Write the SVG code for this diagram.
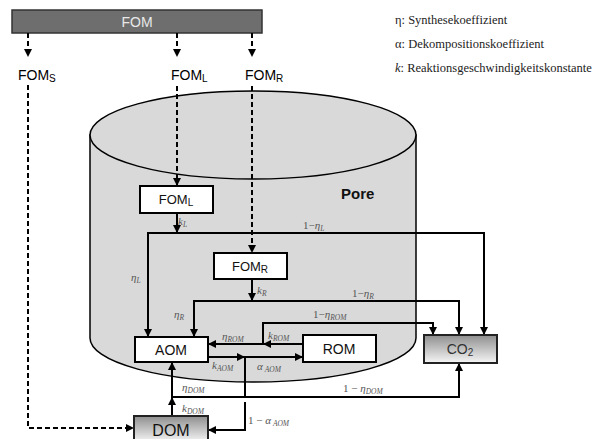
<svg xmlns="http://www.w3.org/2000/svg" width="602" height="439" viewBox="0 0 602 439">
<defs>
<marker id="ah" viewBox="0 0 10 10" refX="10" refY="5" markerWidth="9" markerHeight="8" markerUnits="userSpaceOnUse" orient="auto"><path d="M0,0 L10,5 L0,10 z" fill="#000"/></marker>
<linearGradient id="gg" x1="0" y1="0" x2="0" y2="1"><stop offset="0" stop-color="#8e8e8e"/><stop offset="1" stop-color="#f6f6f6"/></linearGradient>
<style>
.ln{fill:none;stroke:#000;stroke-width:2}
.ar{marker-end:url(#ah)}
.ds{fill:none;stroke:#000;stroke-width:2;stroke-dasharray:5,3}
.box{fill:#fff;stroke:#000;stroke-width:2}
.gbox{fill:url(#gg);stroke:#222;stroke-width:2}
.bt{font-family:"Liberation Sans",Arial,sans-serif;font-size:14px;fill:#111;text-anchor:middle}
.lt{font-family:"Liberation Sans",Arial,sans-serif;font-size:14px;fill:#000}
.gl{font-family:"Liberation Serif","Times New Roman",serif;font-size:11px;fill:#555;font-style:italic}
.sb{font-size:7.5px}
.lg{font-family:"Liberation Serif","Times New Roman",serif;font-size:12.5px;fill:#222}
</style>
</defs>
<g id="cylinder">
<path d="M90,135 L90,338 A163,44 0 0 0 416,338 L416,135 Z" fill="#d9d9d9" stroke="#000" stroke-width="1.5"/>
<ellipse cx="253" cy="135" rx="163" ry="44" fill="#d9d9d9" stroke="#000" stroke-width="1.5"/>
<text x="341" y="199" font-family="Liberation Sans,Arial,sans-serif" font-size="15" font-weight="bold" fill="#111">Pore</text>
</g>
<g id="legend" class="lg">
<text x="395" y="24">η: Synthesekoeffizient</text>
<text x="395" y="48">α: Dekompositionskoeffizient</text>
<text x="395" y="72"><tspan font-style="italic">k</tspan>: Reaktionsgeschwindigkeitskonstante</text>
</g>
<g id="FOM">
<rect x="12" y="10" width="250" height="23" fill="#6e6e6e" stroke="#333" stroke-width="1.5"/>
<text x="137" y="27" class="bt" style="fill:#e8e8e8">FOM</text>
</g>
<g id="FOMS-label"><text x="18" y="80" class="lt">FOM<tspan font-size="10" dy="2">S</tspan></text></g>
<g id="FOML-label"><text x="171" y="80" class="lt">FOM<tspan font-size="10" dy="2">L</tspan></text></g>
<g id="FOMR-label"><text x="245" y="80" class="lt">FOM<tspan font-size="10" dy="2">R</tspan></text></g>
<g id="connectors">
<path class="ds ar" d="M28,33 V57"/>
<path class="ds ar" d="M177,33 V57"/>
<path class="ds ar" d="M252,33 V57"/>
<path class="ds ar" d="M28,85 V428 H134"/>
<path class="ds ar" d="M177,86 V186"/>
<path class="ds ar" d="M252,86 V253"/>
<path class="ln ar" d="M177,213 V233"/>
<path class="ln ar" d="M177,233 H148 V337"/>
<path class="ln ar" d="M177,233 H484 V335"/>
<path class="ln ar" d="M252,279 V301"/>
<path class="ln ar" d="M252,301 H194 V337"/>
<path class="ln ar" d="M252,301 H459 V335"/>
<path class="ln ar" d="M303,344 H263"/>
<path class="ln ar" d="M263,344 H208"/>
<path class="ln ar" d="M263,344 V323 H433 V335"/>
<path class="ln ar" d="M208,357 H245"/>
<path class="ln ar" d="M245,357 H303"/>
<path class="ln" d="M245,357 V397"/>
<path class="ln ar" d="M245,402 V430 H208"/>
<path class="ln ar" d="M172,416 V397"/>
<path class="ln ar" d="M172,397 V362"/>
<path class="ln ar" d="M172,397 H459 V363"/>
</g>
<g id="labels" class="gl">
<text x="178" y="225">k<tspan class="sb" dy="2">L</tspan></text>
<text x="303" y="229"><tspan font-style="normal">1−</tspan>η<tspan class="sb" dy="2">L</tspan></text>
<text x="131" y="281">η<tspan class="sb" dy="2">L</tspan></text>
<text x="257" y="294">k<tspan class="sb" dy="2">R</tspan></text>
<text x="352" y="297"><tspan font-style="normal">1−</tspan>η<tspan class="sb" dy="2">R</tspan></text>
<text x="174" y="318">η<tspan class="sb" dy="2">R</tspan></text>
<text x="313" y="318"><tspan font-style="normal">1−</tspan>η<tspan class="sb" dy="2">ROM</tspan></text>
<text x="268" y="339">k<tspan class="sb" dy="2">ROM</tspan></text>
<text x="222" y="340">η<tspan class="sb" dy="2">ROM</tspan></text>
<text x="212" y="369">k<tspan class="sb" dy="2">AOM</tspan></text>
<text x="257" y="370">α<tspan class="sb" dy="2"> AOM</tspan></text>
<text x="182" y="391">η<tspan class="sb" dy="2">DOM</tspan></text>
<text x="343" y="392"><tspan font-style="normal">1 − </tspan>η<tspan class="sb" dy="2">DOM</tspan></text>
<text x="182" y="412">k<tspan class="sb" dy="2">DOM</tspan></text>
<text x="248" y="424"><tspan font-style="normal">1 − </tspan>α<tspan class="sb" dy="2"> AOM</tspan></text>
</g>
<g id="FOML"><rect class="box" x="140" y="186" width="73" height="27"/><text x="176" y="204" class="bt" style="font-size:13px">FOM<tspan font-size="10" dy="2">L</tspan></text></g>
<g id="FOMR"><rect class="box" x="214" y="253" width="73" height="26"/><text x="250" y="271" class="bt" style="font-size:13px">FOM<tspan font-size="10" dy="2">R</tspan></text></g>
<g id="AOM"><rect class="box" x="135" y="337" width="73" height="25"/><text x="171" y="355" class="bt">AOM</text></g>
<g id="ROM"><rect class="box" x="303" y="335" width="73" height="27"/><text x="339" y="354" class="bt">ROM</text></g>
<g id="CO2"><rect class="gbox" x="424" y="335" width="73" height="28"/><text x="460" y="354" class="bt" style="fill:#333">CO<tspan font-size="10" dy="2">2</tspan></text></g>
<g id="DOM"><rect class="gbox" x="134" y="416" width="74" height="26"/><text x="171" y="436" class="bt" style="font-size:16px">DOM</text></g>
</svg>
